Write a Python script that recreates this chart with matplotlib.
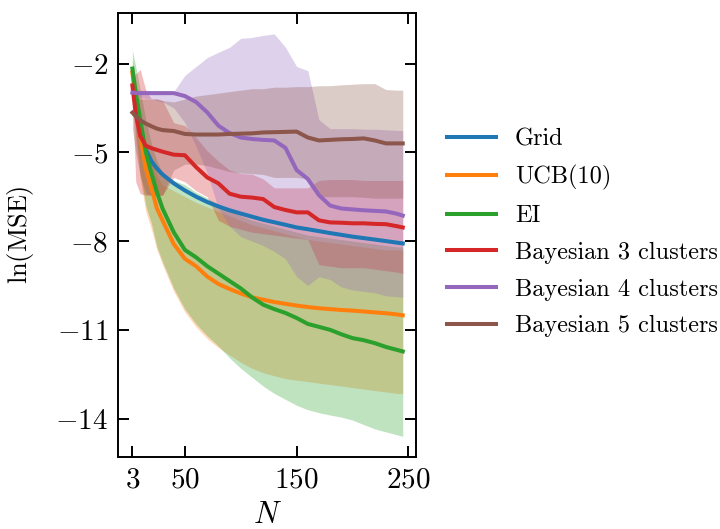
import numpy as np
import matplotlib
matplotlib.use("Agg")
import matplotlib.pyplot as plt

plt.rcParams['font.family'] = 'serif'
plt.rcParams['font.serif'] = ['cmr10']
plt.rcParams['mathtext.fontset'] = 'cm'
plt.rcParams['axes.formatter.use_mathtext'] = True

# sample sizes
n = [3, 6, 10, 15, 20, 25, 30, 40, 50, 60, 70, 80, 90, 100, 110, 120, 130,
     140, 150, 160, 170, 180, 190, 200, 210, 220, 230, 240, 245]
n_grid = [16, 20, 25, 30, 40, 50, 60, 70, 80, 90, 100, 120, 140, 150, 160,
          180, 200, 220, 245]

# Grid (no spread)
grid_mean = [-4.98, -5.3, -5.55, -5.75, -6.05, -6.29, -6.5, -6.68, -6.83, -6.96,
             -7.07, -7.28, -7.45, -7.54, -7.6, -7.73, -7.85, -7.95, -8.08]

# UCB(10)
ucb_mean = [-2.3, -3.3, -4.4, -5.55, -6.2, -6.9, -7.3, -8.1, -8.6, -8.85, -9.2,
            -9.45, -9.62, -9.77, -9.9, -9.98, -10.06, -10.12, -10.18, -10.23,
            -10.27, -10.3, -10.33, -10.35, -10.38, -10.41, -10.44, -10.48, -10.51]
ucb_hi = [-1.9, -2.6, -3.6, -4.7, -5.3, -5.8, -6.1, -6.3, -6.5, -6.7, -6.85,
          -7.0, -7.15, -7.3, -7.45, -7.55, -7.65, -7.75, -7.85, -7.95, -8.0,
          -8.05, -8.1, -8.15, -8.2, -8.25, -8.3, -8.3, -8.3]
ucb_lo = [-2.6, -4.6, -5.9, -7.0, -7.6, -8.3, -8.8, -9.7, -10.4, -10.9, -11.3,
          -11.6, -11.85, -12.1, -12.3, -12.45, -12.55, -12.65, -12.7, -12.75,
          -12.8, -12.85, -12.9, -12.95, -13.0, -13.05, -13.1, -13.15, -13.15]

# EI
ei_mean = [-2.17, -3.0, -3.9, -5.0, -5.7, -6.35, -6.9, -7.7, -8.3, -8.55, -8.85,
           -9.1, -9.35, -9.6, -9.9, -10.15, -10.3, -10.43, -10.6, -10.8, -10.9,
           -11.0, -11.15, -11.28, -11.35, -11.45, -11.58, -11.68, -11.73]
ei_hi = [-1.56, -2.1, -2.9, -3.9, -4.7, -5.3, -5.7, -5.95, -6.1, -6.35, -6.55,
         -6.75, -6.95, -7.15, -7.3, -7.4, -7.5, -7.6, -7.7, -7.8, -7.85, -7.9,
         -7.95, -8.0, -8.05, -8.1, -8.15, -8.2, -8.2]
ei_lo = [-2.5, -4.3, -5.7, -6.8, -7.4, -8.2, -8.7, -9.6, -10.3, -10.8, -11.2,
         -11.55, -11.95, -12.3, -12.6, -12.9, -13.15, -13.35, -13.55, -13.7,
         -13.8, -13.88, -13.95, -14.05, -14.2, -14.35, -14.45, -14.55, -14.6]

# Bayesian 3 clusters
b3_mean = [-2.74, -3.7, -4.45, -4.78, -4.86, -4.92, -4.98, -5.08, -5.1, -5.5,
           -5.85, -6.05, -6.4, -6.5, -6.53, -6.58, -6.85, -6.95, -7.03, -7.03,
           -7.3, -7.37, -7.38, -7.4, -7.4, -7.42, -7.43, -7.5, -7.54]
b3_hi = [-2.5, -2.35, -2.2, -2.9, -3.2, -3.2, -3.25, -4.0, -4.1, -4.5, -4.95,
         -5.3, -5.6, -5.72, -5.74, -5.9, -6.2, -6.2, -6.2, -6.2, -5.95, -5.92,
         -5.92, -5.92, -5.95, -5.95, -5.95, -5.95, -5.95]
b3_lo = [-3.0, -6.0, -6.4, -6.45, -6.45, -6.45, -6.45, -5.85, -6.0, -6.3, -6.5,
         -7.3, -7.5, -7.6, -7.7, -7.75, -7.8, -7.85, -7.9, -7.95, -8.8, -8.85,
         -8.9, -8.9, -8.9, -8.95, -9.0, -9.05, -9.1]

# Bayesian 4 clusters
b4_mean = [-2.98, -3.0, -3.0, -3.0, -3.0, -3.0, -3.0, -3.0, -3.1, -3.3, -3.65,
           -4.1, -4.35, -4.5, -4.55, -4.58, -4.6, -4.85, -5.6, -5.9, -6.45,
           -6.8, -6.9, -6.93, -6.96, -6.98, -7.0, -7.08, -7.14]
b4_hi = [-2.85, -2.88, -2.9, -2.9, -2.92, -2.92, -2.93, -2.95, -2.4, -2.1, -1.8,
         -1.62, -1.45, -1.15, -1.12, -1.05, -1.0, -1.45, -2.1, -2.24, -3.9,
         -4.2, -4.2, -4.2, -4.22, -4.22, -4.24, -4.26, -4.26]
b4_lo = [-3.1, -3.12, -3.15, -3.18, -3.2, -3.25, -3.3, -3.5, -4.0, -4.8, -5.7,
         -6.9, -7.5, -7.85, -8.0, -8.15, -8.35, -8.6, -9.2, -9.5, -9.2, -9.3,
         -9.55, -9.65, -9.7, -9.75, -9.85, -9.88, -9.9]

# Bayesian 5 clusters
b5_mean = [-3.66, -3.78, -3.92, -4.03, -4.12, -4.2, -4.25, -4.28, -4.38, -4.4,
           -4.4, -4.4, -4.38, -4.37, -4.36, -4.33, -4.32, -4.31, -4.3, -4.5,
           -4.6, -4.58, -4.56, -4.55, -4.53, -4.6, -4.7, -4.7, -4.7]
b5_hi = [-3.0, -3.1, -3.2, -3.2, -3.2, -3.2, -3.25, -3.3, -3.2, -3.1, -3.05,
         -3.0, -2.95, -2.9, -2.85, -2.85, -2.8, -2.8, -2.78, -2.78, -2.75,
         -2.75, -2.72, -2.7, -2.68, -2.68, -2.88, -2.9, -2.9]
b5_lo = [-4.2, -5.0, -5.8, -6.4, -6.45, -6.45, -6.45, -5.6, -5.4, -5.4, -5.45,
         -5.55, -5.65, -5.7, -5.72, -5.75, -5.85, -5.85, -5.85, -5.9, -6.5,
         -6.5, -6.5, -6.5, -6.52, -6.55, -6.55, -6.55, -6.55]

labels = ['Grid', 'UCB(10)', 'EI', 'Bayesian 3 clusters',
          'Bayesian 4 clusters', 'Bayesian 5 clusters']
colors = ['C0', 'C1', 'C2', 'C3', 'C4', 'C5']

fig = plt.figure(figsize=(7.2, 5.29), dpi=100)
ax = fig.add_axes([0.164, 0.136, 0.414, 0.839])

bands = [(ucb_lo, ucb_hi, 'C1'), (ei_lo, ei_hi, 'C2'), (b3_lo, b3_hi, 'C3'),
         (b4_lo, b4_hi, 'C4'), (b5_lo, b5_hi, 'C5')]
for lo, hi, c in bands:
    ax.fill_between(n, lo, hi, color=c, alpha=0.3, lw=0)

lw = 2.9
ax.plot(n_grid, grid_mean, color=colors[0], lw=lw, label=labels[0])
ax.plot(n, ucb_mean, color=colors[1], lw=lw, label=labels[1])
ax.plot(n, ei_mean, color=colors[2], lw=lw, label=labels[2])
ax.plot(n, b3_mean, color=colors[3], lw=lw, label=labels[3])
ax.plot(n, b4_mean, color=colors[4], lw=lw, label=labels[4])
ax.plot(n, b5_mean, color=colors[5], lw=lw, label=labels[5])

ax.set_xlim(-9.8, 257)
ax.set_ylim(-15.3, -0.3)
ax.set_xticks([3, 50, 150, 250])
ax.set_yticks([-2, -5, -8, -11, -14])
ax.tick_params(direction='in', top=True, right=True, length=8, width=1.4,
               labelsize=21, pad=7)
for s in ax.spines.values():
    s.set_linewidth(1.4)

ax.set_xlabel('$N$', fontsize=22, labelpad=6)
ax.set_ylabel(r'$\ln(\mathrm{MSE})$', fontsize=19, labelpad=14)

ax.legend(loc='center left', bbox_to_anchor=(1.03, 0.505), frameon=False,
          fontsize=17.5, handlelength=2.0, labelspacing=0.6)

fig.savefig('out.png', dpi=100)
